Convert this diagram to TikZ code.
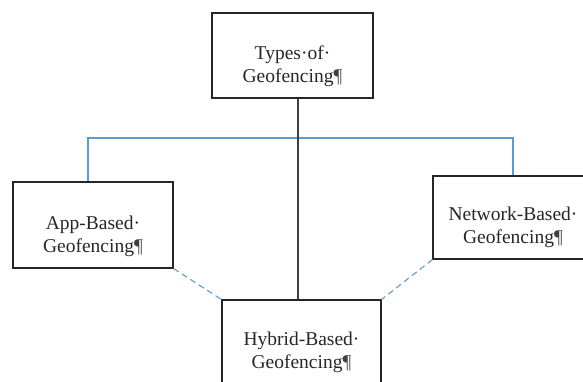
\documentclass[tikz,border=0pt]{standalone}
\usepackage{fontspec}
\setmainfont{Liberation Serif}
\usetikzlibrary{calc}
\definecolor{wordblue}{RGB}{91,155,213}
\definecolor{boxline}{RGB}{38,38,38}
\newcommand{\pil}{\textcolor{black!75}{¶}}
\begin{document}
\begin{tikzpicture}[x=1pt,y=-1pt,
  box/.style={draw=boxline,line width=1.1pt,rectangle,inner sep=0pt},
  txt/.style={align=center,inner sep=0pt,font=\fontsize{19.5}{23}\selectfont,text=black!85},
  bus/.style={draw=wordblue,line width=1.1pt},
  dash link/.style={draw=wordblue,line width=1.1pt,dash pattern=on 6pt off 4pt}]
\useasboundingbox (0,0) rectangle (583,381);
\node[box,minimum width=161pt,minimum height=85pt] (top) at (292.5,55.5) {};
\node[box,minimum width=160pt,minimum height=86pt] (app) at (93,225) {};
\node[box,minimum width=160pt,minimum height=83pt] (net) at (513,217.5) {};
\node[box,minimum width=159pt,minimum height=85pt] (hyb) at (301.5,342.5) {};
\node[txt] (toptext) at ([yshift=-10.5pt]top.center) {Types·of·\\Geofencing\pil};
\node[txt] (apptext) at ([yshift=-11pt]app.center) {App-Based·\\Geofencing\pil};
\node[txt] (nettext) at ([yshift=-9.5pt]net.center) {Network-Based·\\Geofencing\pil};
\node[txt] (hybtext) at ([yshift=-10pt]hyb.center) {Hybrid-Based·\\Geofencing\pil};
\coordinate (busy) at (0,138);
\draw[bus] ([xshift=-5pt]app.north) -- ([xshift=-5pt]app.north |- busy) -- (net.north |- busy) -- (net.north);
\draw[draw=black!75,line width=1.1pt] ([xshift=5.5pt]top.south) -- ([xshift=-3.5pt]hyb.north);
\draw[dash link] (app.south east) -- (hyb.north west);
\draw[dash link] (net.south west) -- (hyb.north east);
\end{tikzpicture}
\end{document}
